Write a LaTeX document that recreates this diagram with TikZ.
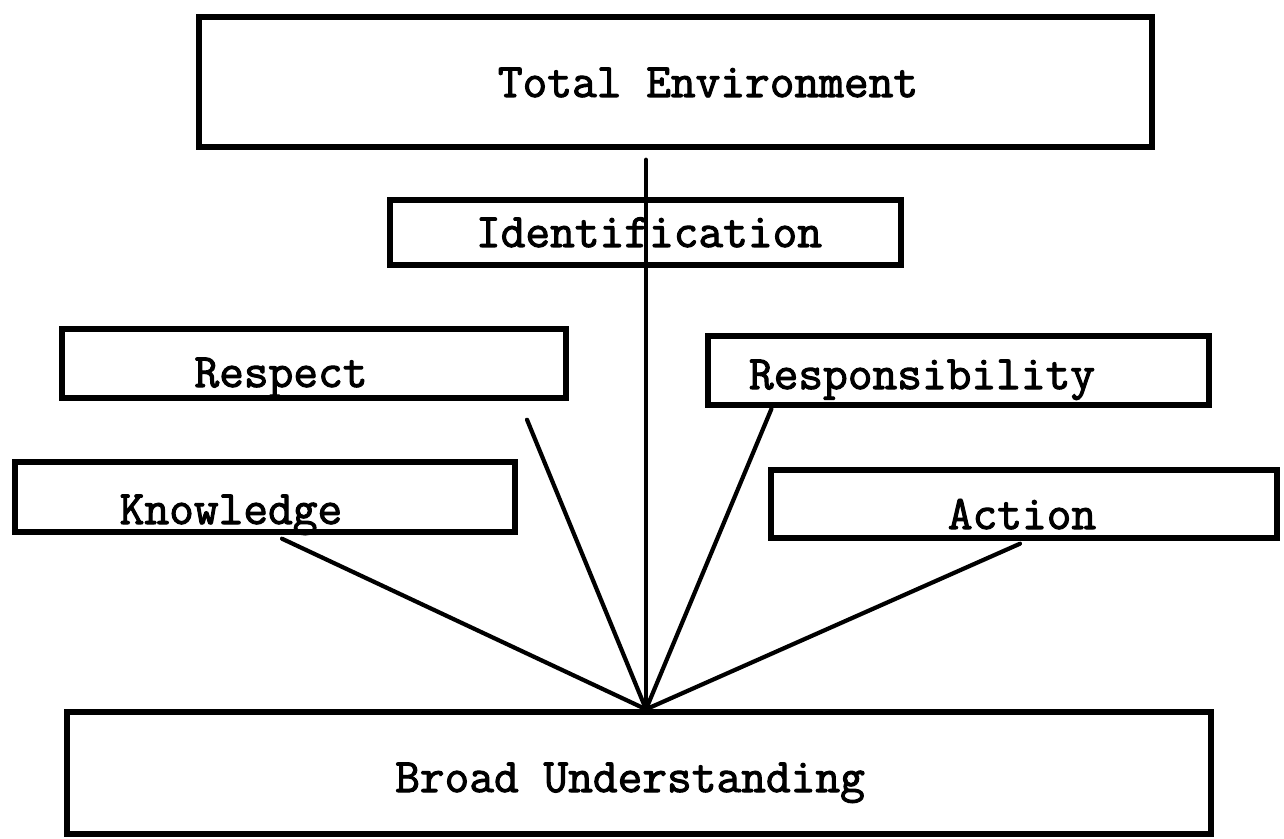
\documentclass[tikz,border=0pt]{standalone}
\usepackage{fontspec}
% heavy typewriter face
\newfontfamily\typewriter{Latin Modern Mono}[FakeBold=2.2]
\begin{document}
\begin{tikzpicture}[x=0.5pt,y=-0.5pt,
  box/.style={draw, line width=2.7pt, rectangle, inner sep=0pt},
  word/.style={font=\typewriter\fontsize{24}{24}\selectfont, anchor=base, inner sep=0pt},
  link/.style={line width=2.1pt, line cap=round}]
\useasboundingbox (0,0) rectangle (1284,839);

% boxes
\node[box, minimum width=476.5pt, minimum height=65pt]   (te) at (675.5,82)  {};
\node[box, minimum width=255.5pt, minimum height=32.5pt] (id) at (645.5,232.5) {};
\node[box, minimum width=252pt,   minimum height=34.5pt] (re) at (314,363.5)  {};
\node[box, minimum width=250.5pt, minimum height=34.5pt] (rs) at (958.5,370.5) {};
\node[box, minimum width=250pt,   minimum height=35pt]   (kn) at (265,497)    {};
\node[box, minimum width=253pt,   minimum height=34pt]   (ac) at (1024,504)   {};
\node[box, minimum width=572pt,   minimum height=61pt]   (bu) at (639,773)    {};

% texts
\node[word] (te-txt) at (708,97)  {Total Environment};
\node[word] (id-txt) at (649,247) {Identification};
\node[word] (re-txt) at (281,387) {Respect};
\node[word] (rs-txt) at (922,389) {Responsibility};
\node[word] (kn-txt) at (231,524) {Knowledge};
\node[word] (ac-txt) at (1022,529) {Action};
\node[word] (bu-txt) at (630,792) {Broad Understanding};

% meeting point on the top edge of the bottom box
\coordinate (hub) at ([xshift=3.5pt]bu.north);

% connectors
\draw[link] ([yshift=-5pt]te.south -| hub) -- (hub);
\draw[link] ([xshift=8.5pt,yshift=-2pt]kn.south) -- (hub);
\draw[link] ([xshift=106.5pt,yshift=-9.5pt]re.south) -- (hub);
\draw[link] ([xshift=-93.5pt,yshift=-0.5pt]rs.south) -- (hub);
\draw[link] ([xshift=-2pt,yshift=-1.5pt]ac.south) -- (hub);
\end{tikzpicture}
\end{document}
